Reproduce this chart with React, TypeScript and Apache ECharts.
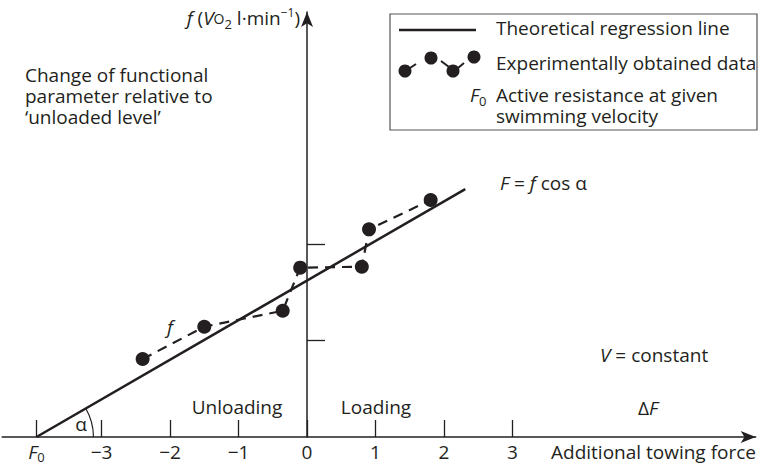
import React, { useEffect, useRef } from "react";
import * as echarts from "echarts";

// ---- data ----
const F0 = -3.95;
const xTickValues = [F0, -3, -2, -1, 0, 1, 2, 3];
const yTickValues = [1, 2];
const regressionX = [F0, 2.31];
const regressionY = [0, 2.567];
const expX = [-2.4, -1.5, -0.355, -0.1, 0.8, 0.905, 1.805];
const expY = [0.807, 1.142, 1.307, 1.753, 1.763, 2.15, 2.453];

const INK = "#231f20";
const FONT = "Open Sans";
const FS = 19;

export default function App() {
  const ref = useRef<HTMLDivElement>(null);
  useEffect(() => {
    if (!ref.current) return;
    const chart = echarts.init(ref.current, undefined, { renderer: "svg" });
    const fmtX = (v: number) => {
      if (Math.abs(v - F0) < 1e-6) return "{i|F}{s|0}";
      if (v < 0) return "\u2212" + Math.abs(v);
      return String(v);
    };
    const richTok = (extra: any = {}) => ({ fontFamily: FONT, fontSize: FS, fill: INK, ...extra });
    const txt = (x: number, y: number, text: string, align = "left", rich?: any, extra: any = {}) => ({
      type: "text",
      x,
      y,
      silent: true,
      style: {
        text,
        fontFamily: FONT,
        fontSize: FS,
        fill: INK,
        align,
        verticalAlign: "middle",
        ...(rich ? { rich } : {}),
        ...extra,
      },
    });
    const baseRich = {
      n: richTok({ lineHeight: 24, verticalAlign: "middle" }),
      i: richTok({ fontStyle: "italic", lineHeight: 24, verticalAlign: "middle" }),
      o: richTok({ fontSize: 14, lineHeight: 24, verticalAlign: "middle" }),
      sub: richTok({ fontSize: 13, lineHeight: 14, verticalAlign: "bottom" }),
      sup: richTok({ fontSize: 12, lineHeight: 13, verticalAlign: "top" }),
    };

    const option: any = {
      animation: false,
      textStyle: { fontFamily: FONT },
      grid: { left: 2.2, right: 5.3, top: 12, bottom: 27, containLabel: false },
      xAxis: {
        type: "value",
        min: -4.45,
        max: 6.55,
        axisLine: {
          onZero: true,
          symbol: ["none", "arrow"],
          symbolSize: [9, 15],
          lineStyle: { color: INK, width: 1.5 },
        },
        axisTick: { customValues: xTickValues, inside: true, length: 17, lineStyle: { color: INK, width: 1.3 } },
        axisLabel: {
          customValues: xTickValues,
          formatter: fmtX,
          margin: 4,
          color: INK,
          fontSize: FS,
          fontFamily: FONT,
          lineHeight: 22,
          rich: {
            i: { fontStyle: "italic", fontSize: FS, color: INK, fontFamily: FONT, lineHeight: 22, verticalAlign: "middle" },
            s: { fontSize: 13, color: INK, fontFamily: FONT, lineHeight: 15, verticalAlign: "bottom" },
          },
        },
        splitLine: { show: false },
      },
      yAxis: {
        type: "value",
        min: 0,
        max: 4.4,
        axisLine: {
          show: true,
          onZero: true,
          symbol: ["none", "arrow"],
          symbolSize: [9, 15],
          lineStyle: { color: INK, width: 1.5 },
        },
        axisTick: { show: true, customValues: yTickValues, inside: true, length: 18, lineStyle: { color: INK, width: 1.3 } },
        axisLabel: { show: false },
        splitLine: { show: false },
      },
      series: [
        {
          name: "Theoretical regression line",
          type: "line",
          data: regressionX.map((x, k) => [x, regressionY[k]]),
          symbol: "none",
          lineStyle: { color: INK, width: 2.5 },
          z: 3,
        },
        {
          name: "Experimentally obtained data",
          type: "line",
          data: expX.map((x, k) => [x, expY[k]]),
          symbol: "circle",
          symbolSize: 14,
          itemStyle: { color: INK },
          lineStyle: { color: INK, width: 2.2, type: [10, 7] },
          z: 4,
        },
        {
          type: "custom",
          silent: true,
          data: [[F0, 0]],
          renderItem: (_p: any, api: any) => {
            const c = api.coord([regressionX[0], regressionY[0]]);
            const e = api.coord([regressionX[1], regressionY[1]]);
            const ang = Math.atan2(c[1] - e[1], e[0] - c[0]);
            return {
              type: "arc",
              shape: { cx: c[0], cy: c[1], r: 57, startAngle: -ang, endAngle: 0, clockwise: true },
              style: { stroke: INK, fill: "none", lineWidth: 1.2 },
            };
          },
          z: 3,
        },
      ],
      graphic: [
        // y-axis title
        txt(300, 18, "{i|f} {n|(}{i|V}{o|O}{sub|2}{n| l·min}{sup|\u22121}{n|)}", "right", baseRich),
        // left description
        txt(25, 96, "Change of functional\nparameter relative to\n\u2018unloaded level\u2019", "left", undefined, { lineHeight: 21 }),
        // legend box
        {
          type: "group",
          silent: true,
          children: [
            { type: "rect", shape: { x: 390, y: 14, width: 367, height: 116 }, style: { fill: "#fff", stroke: "#555", lineWidth: 1.2 } },
            { type: "line", shape: { x1: 399, y1: 30, x2: 476, y2: 30 }, style: { stroke: INK, lineWidth: 2.5 } },
            { type: "line", shape: { x1: 410, y1: 68, x2: 416, y2: 64 }, style: { stroke: INK, lineWidth: 2 } },
            { type: "line", shape: { x1: 441, y1: 61, x2: 449, y2: 67 }, style: { stroke: INK, lineWidth: 2 } },
            { type: "line", shape: { x1: 458, y1: 68, x2: 464, y2: 63 }, style: { stroke: INK, lineWidth: 2 } },
            { type: "circle", shape: { cx: 405, cy: 71, r: 6.5 }, style: { fill: INK } },
            { type: "circle", shape: { cx: 431, cy: 58, r: 6.5 }, style: { fill: INK } },
            { type: "circle", shape: { cx: 453, cy: 71, r: 6.5 }, style: { fill: INK } },
            { type: "circle", shape: { cx: 474, cy: 57, r: 6.5 }, style: { fill: INK } },
            txt(496, 28, "Theoretical regression line", "left"),
            txt(496, 63, "Experimentally obtained data", "left"),
            txt(470, 95, "{i|F}{sub|0}", "left", baseRich),
            txt(496, 105.5, "Active resistance at given\nswimming velocity", "left", undefined, { lineHeight: 21 }),
          ],
        },
        txt(500, 183, "{i|F}{n| = }{i|f}{n| cos \u03b1}", "left", baseRich),
        txt(600, 355, "{i|V}{n| = constant}", "left", baseRich),
        txt(170, 327, "{i|f}", "center", baseRich),
        txt(81, 424, "\u03b1", "center"),
        txt(237, 407, "Unloading", "center"),
        txt(376, 407, "Loading", "center"),
        txt(648, 408, "{n|\u0394}{i|F}", "center", baseRich),
        txt(551, 452, "Additional towing force", "left"),
      ],
    };
    chart.setOption(option);
    return () => chart.dispose();
  }, []);
  return (
    <div
      ref={ref}
      style={{ position: "fixed", left: 0, top: 0, width: 761, height: 464, background: "#fff" }}
    />
  );
}
